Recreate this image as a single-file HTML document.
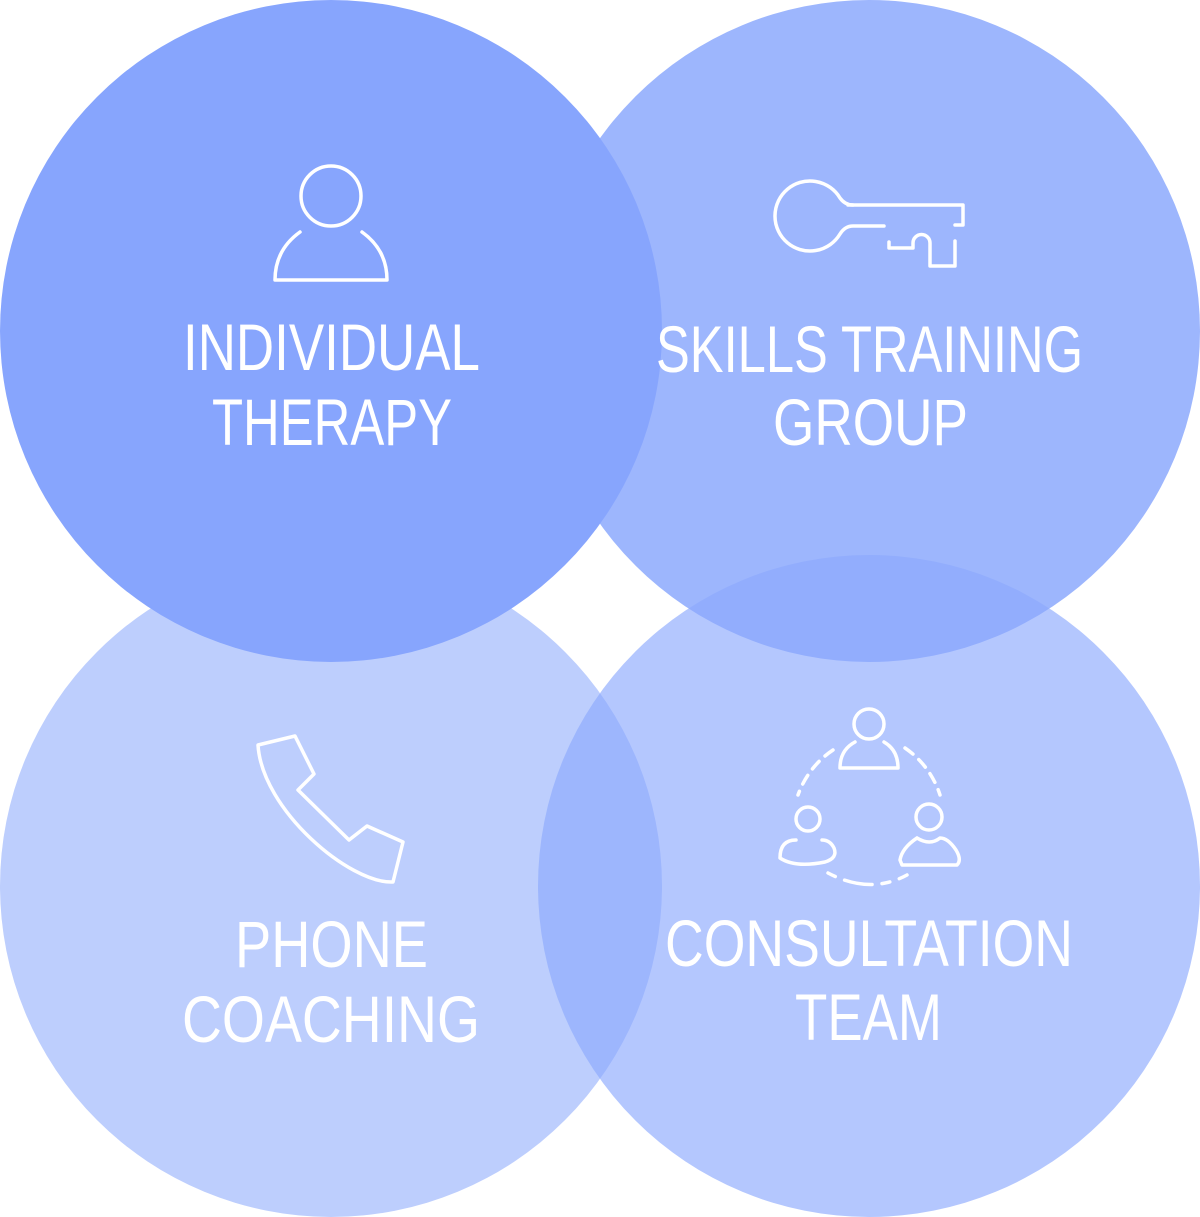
<!DOCTYPE html>
<html><head><style>html,body{margin:0;padding:0;background:#fff}svg{display:block}</style></head>
<body>
<svg width="1200" height="1217" viewBox="0 0 1200 1217" xmlns="http://www.w3.org/2000/svg">
<circle cx="869" cy="331" r="331" fill="#9db6fd"/>
<circle cx="331" cy="886" r="331" fill="#bdcefd"/>
<circle cx="331" cy="331" r="331" fill="#87a5fd"/>
<circle cx="869" cy="886" r="331" fill="rgb(140,169,253)" fill-opacity="0.65"/>
<g fill="none" stroke="#fff" stroke-width="3.5" stroke-linecap="round" stroke-linejoin="round">
<circle cx="331" cy="196" r="30"/>
<path d="M300 232 Q275 250 275 280 L387 280 Q387 250 362 232"/>
<path d="M848 205 L963 205 L963 225 L955 225"/>
<path d="M884 226 L853 226 Q845 226 840 234 A35 35 0 1 1 840 198 Q845 205 853 205"/>
<path d="M889 242 L889 248 L913 248 L913 243 A8.5 8.5 0 0 1 930 243 L930 266 L955 266 L955 241"/>
<path d="M258 745 L295 736 L314 774 L298 790 L349 840 L367 826 L403 842 L393 882 C350 884 262 810 258 745 Z"/>
<circle cx="869" cy="724" r="15"/>
<path d="M855 742 Q840 750 840 768 L898 768 Q898 750 884 742"/>
<circle cx="808" cy="819" r="12"/>
<path d="M796 840 Q780 840 780 858 Q795 868 825 862 Q838 858 834 848 Q830 840 822 840"/>
<circle cx="929" cy="817" r="13"/>
<path d="M917 838 Q902 848 900 860 L902 865 L957 865 Q962 860 956 850 Q948 838 940 838 Q930 846 917 838"/>
<path d="M833 750 A90 90 0 0 0 798 795" stroke-dasharray="10 8"/>
<path d="M905 748 A90 90 0 0 1 940 795" stroke-dasharray="10 8"/>
<path d="M828 873 Q870 895 907 875" stroke-dasharray="8 10 28 10"/>
</g>
<g fill="#fff" font-family="Liberation Sans, sans-serif" font-size="66" text-anchor="start">
<text x="183" y="370" textLength="297" lengthAdjust="spacingAndGlyphs">INDIVIDUAL</text>
<text x="212" y="445" textLength="240" lengthAdjust="spacingAndGlyphs">THERAPY</text>
<text x="656" y="372" textLength="427" lengthAdjust="spacingAndGlyphs">SKILLS TRAINING</text>
<text x="773" y="445" textLength="195" lengthAdjust="spacingAndGlyphs">GROUP</text>
<text x="235" y="967" textLength="193" lengthAdjust="spacingAndGlyphs">PHONE</text>
<text x="182" y="1042" textLength="298" lengthAdjust="spacingAndGlyphs">COACHING</text>
<text x="665" y="966" textLength="408" lengthAdjust="spacingAndGlyphs">CONSULTATION</text>
<text x="795" y="1040" textLength="147" lengthAdjust="spacingAndGlyphs">TEAM</text>
</g>
</svg>
</body></html>
